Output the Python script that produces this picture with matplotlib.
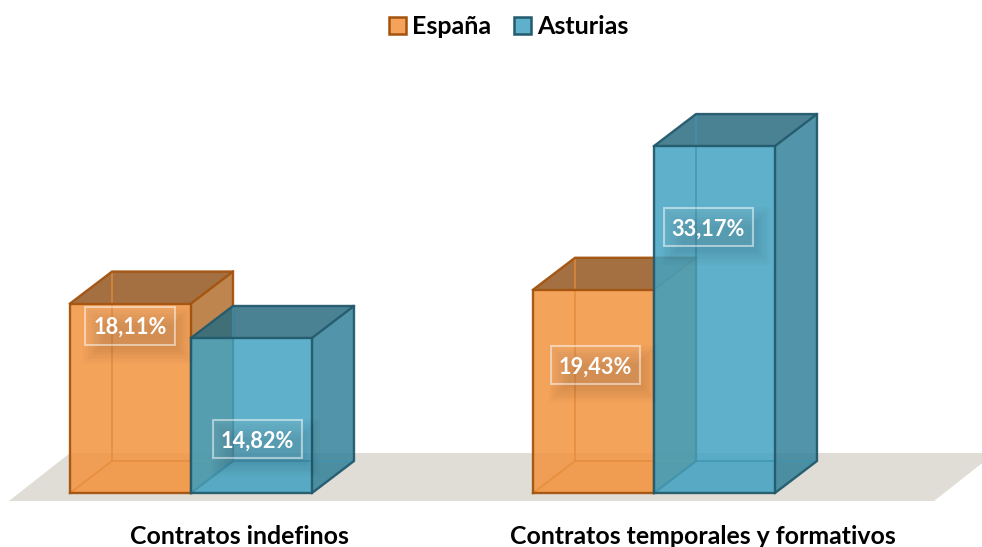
#!/usr/bin/env python3
# -*- coding: utf-8 -*-

import numpy as np
import matplotlib
matplotlib.use("Agg")
import matplotlib.pyplot as plt
from matplotlib.patches import Polygon, Rectangle, Patch

plt.rcParams['font.family'] = ['Lato', 'DejaVu Sans']

# ========== Datos ==========
categories = ["Contratos indefinos", "Contratos temporales y formativos"]
series_names = ["España", "Asturias"]
espana = [18.11, 19.43]
asturias = [14.82, 33.17]

# ========== Escala (pixeles de la imagen) ==========
W, H = 982, 547
X0, GROUP_PX = 191.0, 463.0   # centro del primer grupo, distancia entre grupos
Y0, UNIT_PX = 493.0, 10.46    # base de las barras, pixeles por punto
BAR = 121.0 / GROUP_PX
DEPTH_X = 42.0 / GROUP_PX
DEPTH_Y = 32.0 / UNIT_PX

fig = plt.figure(figsize=(W / 100, H / 100), dpi=100)
ax = fig.add_axes([0, 0, 1, 1])
ax.set_xlim(-X0 / GROUP_PX, (W - X0) / GROUP_PX)
ax.set_ylim((Y0 - H) / UNIT_PX, Y0 / UNIT_PX)
ax.axis('off')


def dx(px):
    return px / GROUP_PX


def dy(px):
    return px / UNIT_PX


def pt(xp, yp):
    return (xp - X0) / GROUP_PX, (Y0 - yp) / UNIT_PX


# Suelo
floor = [pt(9, 501), pt(70, 453), pt(995, 453), pt(934, 501)]
ax.add_patch(Polygon(floor, closed=True, fc='#E0DDD6', ec='none', zorder=1))

styles = {
    "España": dict(front='#F3933E', top='#96571F', side='#B3712F',
                   edge='#A3530F', inner='#E58A38'),
    "Asturias": dict(front='#43A3C2', top='#2B6C80', side='#34829A',
                     edge='#235A6D', inner='#3D93AE'),
}


def bar3d(x, v, st, z):
    # x = borde izquierdo, v = valor
    w, ox, oy = BAR, DEPTH_X, DEPTH_Y
    # cara del fondo
    ax.add_patch(Polygon([(x, 0), (x + ox, oy), (x + ox + w, oy), (x + w, 0)],
                         fc=st['front'], alpha=0.1, ec='none', zorder=z))
    # caras visibles
    ax.add_patch(Polygon([(x, v), (x + ox, v + oy), (x + ox + w, v + oy), (x + w, v)],
                         fc=st['top'], alpha=0.85, ec='none', zorder=z + 0.1))
    ax.add_patch(Polygon([(x + w, 0), (x + w + ox, oy), (x + w + ox, v + oy), (x + w, v)],
                         fc=st['side'], alpha=0.85, ec='none', zorder=z + 0.1))
    ax.add_patch(Rectangle((x, 0), w, v, fc=st['front'], alpha=0.85, ec='none', zorder=z + 0.2))
    # aristas ocultas
    for xs, ys in [([x + ox, x + ox], [oy, v + oy]),
                   ([x, x + ox], [0, oy]),
                   ([x + ox, x + ox + w], [oy, oy])]:
        ax.plot(xs, ys, color=st['inner'], lw=1.4, alpha=0.7, zorder=z + 0.3,
                solid_capstyle='butt')
    # aristas visibles
    for xs, ys in [([x, x + w, x + w, x, x], [0, 0, v, v, 0]),
                   ([x, x + ox, x + ox + w, x + w], [v, v + oy, v + oy, v]),
                   ([x + w, x + w + ox, x + w + ox], [0, oy, v + oy]),
                   ]:
        ax.plot(xs, ys, color=st['edge'], lw=1.7, alpha=0.95, zorder=z + 0.4,
                solid_joinstyle='round')


for i in range(len(categories)):
    bar3d(i - BAR, espana[i], styles["España"], 2 + i * 2)
    bar3d(i, asturias[i], styles["Asturias"], 3 + i * 2)

# ========== Etiquetas de valor ==========
label_offset = {
    (0, 0): (-0.5, -22), (0, 1): (5.5, -101),
    (1, 0): (1.5, -75), (1, 1): (-6.5, -81),
}
BOX_W, BOX_H = 89.0, 38.0
for s, vals in enumerate([espana, asturias]):
    for i, v in enumerate(vals):
        off = label_offset[(i, s)]
        cx = i - BAR + s * BAR + BAR / 2 + dx(off[0])
        cy = v + dy(off[1])
        # sombra difusa
        for k in range(9):
            grow = 10 - k * 2.4
            ax.add_patch(Rectangle(
                (cx - dx(BOX_W / 2 + grow) + dx(8), cy - dy(BOX_H / 2 + grow) - dy(9)),
                dx(BOX_W + 2 * grow), dy(BOX_H + 2 * grow),
                fc='black', ec='none', alpha=0.017, zorder=10))
        ax.add_patch(Rectangle((cx - dx(BOX_W / 2), cy - dy(BOX_H / 2)),
                               dx(BOX_W), dy(BOX_H), fc=(1, 1, 1, 0.06),
                               ec=(1, 1, 1, 0.5), lw=1.5, zorder=11))
        ax.text(cx, cy, f"{v:.2f}%".replace('.', ','), color='white', fontsize=15.7,
                fontweight='bold', ha='center', va='center_baseline', zorder=12)

# ========== Categorias ==========
for i, cat in enumerate(categories):
    ax.text(i + dx(48.5), dy(-42), cat, color='black', fontsize=17.9, fontweight='bold',
            ha='center', va='center_baseline')

# ========== Leyenda ==========
handles = [Patch(fc='#F5A35B', ec=styles["España"]['edge'], lw=1.8),
           Patch(fc='#5FB1CB', ec=styles["Asturias"]['edge'], lw=1.8)]
fig.legend(handles, series_names, loc='center', bbox_to_anchor=(508.5 / W, 1 - 27 / H),
           ncol=2, frameon=False, prop=dict(size=18, weight='bold'),
           handlelength=0.68, handleheight=0.68, handletextpad=0.24, columnspacing=0.92)

fig.savefig('out.png', dpi=100)
